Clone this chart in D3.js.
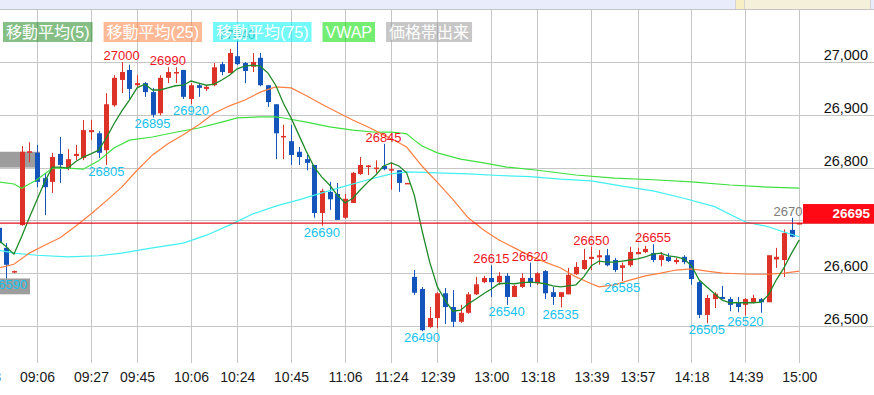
<!DOCTYPE html>
<html>
<head>
<meta charset="utf-8">
<script src="https://cdn.jsdelivr.net/npm/d3@7/dist/d3.min.js"></script>
<style>
  body { margin: 0; background: #fff; }
  svg { display: block; font-family: "Liberation Sans", Arial, "Noto Sans CJK JP", sans-serif; }
</style>
</head>
<body>
<svg id="chart" width="874" height="395"></svg>
<script>
// 3-minute candles, index 0 = 09:06, first five belong to the previous session close
var firstIndex = -5;
var opens = [26686,26648,26602,26691,26828,
  26828,26780,26773,26826,26799,26822,26818,26867,26865,26833,
  26918,26966,26985,26956,26960,26943,26903,26970,26979,26985,
  26930,26956,26949,26956,26996,26979,27011,26998,26991,27008,
  26956,26920,26858,26850,26830,26816,26805,26714,26754,26750,
  26705,26733,26788,26801,26797,26803,26795,26795,26769,26593,
  26570,26498,26515,26562,26536,26508,26525,26560,26583,26591,
  26583,26595,26555,26574,26591,26581,26604,26564,26555,26560,
  26598,26608,26627,26630,26634,26625,26610,26615,26636,26640,
  26638,26625,26631,26621,26631,26625,26583,26521,26551,26555,
  26551,26545,26540,26545,26551,26545,26626,26625,26682,26693];
var highs = [26692,26657,26605,26841,26848,
  26843,26790,26828,26858,26835,26843,26890,26890,26869,26941,
  26975,27000,26995,26975,26962,26951,26975,26990,26990,26985,
  26960,26960,26956,26998,27000,27025,27040,27000,27017,27017,
  26956,26920,26881,26881,26839,26824,26805,26760,26773,26771,
  26750,26792,26820,26805,26814,26845,26810,26795,26771,26606,
  26574,26536,26564,26572,26568,26540,26564,26593,26595,26615,
  26602,26600,26578,26600,26620,26602,26606,26574,26564,26610,
  26621,26646,26650,26644,26646,26629,26620,26650,26648,26652,
  26655,26640,26638,26629,26634,26625,26587,26559,26564,26576,
  26555,26555,26553,26559,26553,26634,26648,26683,26705,26695];
var lows = [26650,26590,26600,26690,26810,
  26763,26710,26752,26771,26795,26814,26814,26852,26818,26805,
  26915,26941,26928,26951,26934,26895,26899,26960,26960,26930,
  26920,26934,26945,26954,26975,26979,26994,26960,26981,26954,
  26915,26816,26816,26805,26805,26795,26705,26690,26720,26701,
  26703,26733,26786,26786,26790,26795,26758,26754,26769,26559,
  26490,26496,26496,26504,26498,26506,26523,26559,26581,26555,
  26578,26540,26555,26572,26574,26578,26551,26540,26535,26560,
  26597,26606,26606,26616,26613,26602,26585,26612,26636,26638,
  26621,26613,26621,26617,26617,26578,26515,26505,26534,26551,
  26528,26526,26520,26543,26525,26545,26610,26593,26668,26693];
var closes = [26657,26616,26604,26830,26831,
  26773,26763,26820,26805,26816,26826,26871,26871,26828,26920,
  26970,26981,26949,26960,26943,26900,26970,26981,26981,26934,
  26956,26951,26953,26990,26981,27017,26996,26983,27000,26956,
  26924,26865,26860,26824,26820,26809,26714,26756,26740,26701,
  26741,26790,26805,26804,26800,26797,26797,26771,26771,26563,
  26492,26515,26562,26536,26508,26525,26560,26579,26591,26583,
  26595,26555,26576,26591,26583,26600,26562,26555,26564,26597,
  26612,26625,26631,26634,26615,26606,26615,26640,26640,26646,
  26625,26634,26623,26625,26621,26589,26521,26553,26561,26551,
  26540,26536,26551,26553,26545,26634,26631,26676,26669,26695];

// 5-period moving average, one value per candle
var ma5 = [26663,26650,26636,26669,26705,
  26739,26773,26801,26801,26799,26811,26820,26826,26833,26856,
  26883,26907,26928,26951,26958,26947,26947,26951,26955,26956,
  26964,26960,26956,26958,26966,26975,26987,26992,26994,26992,
  26979,26956,26922,26894,26862,26830,26801,26782,26767,26748,
  26733,26742,26758,26773,26786,26803,26809,26803,26790,26748,
  26681,26621,26574,26549,26528,26530,26542,26551,26561,26570,
  26580,26581,26580,26582,26583,26582,26580,26576,26574,26576,
  26578,26593,26614,26623,26621,26621,26623,26625,26627,26631,
  26636,26638,26633,26631,26627,26614,26587,26574,26561,26549,
  26544,26544,26544,26544,26545,26559,26587,26610,26638,26663];

// longer averages and VWAP, read at sampled candles
var ma25Idx = [-5,-3,-1,1,3,5,7,9,11,13,15,17,19,21,23,25,27,29,31,33,35,37,39,41,43,45,47,48,50,52,54,56,58,60,62,64,66,68,70,72,73,75,77,79,81,83,85,87,89,91,93,95,97,99];
var ma25Val = [26610,26617,26638,26653,26667,26689,26712,26737,26763,26795,26824,26845,26862,26881,26903,26917,26928,26943,26953,26951,26936,26920,26905,26890,26877,26862,26847,26839,26803,26772,26740,26705,26682,26663,26648,26633,26621,26610,26593,26580,26574,26578,26587,26595,26600,26606,26608,26604,26600,26599,26598,26598,26600,26604];
var ma75Idx = [-5,-3,0,4,8,11,15,19,22,25,28,31,34,37,40,43,46,48,52,56,60,64,68,72,76,80,84,88,92,95,97,99];
var ma75Val = [26644,26638,26634,26631,26633,26638,26648,26657,26672,26691,26712,26727,26739,26752,26765,26777,26788,26792,26790,26788,26785,26783,26778,26775,26765,26756,26742,26726,26697,26688,26678,26669];
var vwapIdx = [-5,-3,-2,-1,0,2,4,6,8,10,12,15,18,21,24,26,29,31,32,35,38,41,44,46,47,48,49,50,52,55,58,61,65,70,75,80,85,90,95,99];
var vwapVal = [26773,26769,26761,26769,26777,26799,26799,26797,26813,26837,26852,26858,26867,26875,26886,26894,26896,26896,26894,26886,26877,26871,26867,26867,26866,26864,26852,26841,26828,26816,26809,26801,26795,26786,26780,26777,26773,26767,26763,26761];

// volume by price (band low, band high, volume in thousands)
var bandLows = [26800, 26560];
var bandHighs = [26830, 26590];
var bandVolumes = [40, 30];

var tickIdx = [-7,0,7,13,20,26,33,40,46,52,59,65,72,78,85,92,99];
var tickLabels = ["14:48","09:06","09:27","09:45","10:06","10:24","10:45","11:06","11:24","12:39","13:00","13:18","13:39","13:57","14:18","14:39","15:00"];
var priceTicks = [26500, 26600, 26700, 26800, 26900, 27000];
var lastPrice = 26695;

var highMarks = [11, 17, 26, 45, 59, 64, 72, 80, 98];
var grayMarks = [26, 98];
var lowMarks = [-4, 9, 15, 20, 37, 50, 61, 68, 76, 87, 92];

var legendNames = ["移動平均(5)", "移動平均(25)", "移動平均(75)", "VWAP", "価格帯出来"];
var legendColors = ["#228b22", "#ff7f3f", "#00f4f4", "#00e000", "#999999"];

var W = 874, H = 395;
var svg = d3.select("#chart");

var x = d3.scaleLinear().domain([0, 99]).range([37, 799.3]);
var y = d3.scaleLinear().domain([26500, 27000]).range([326, 62]);
var vx = d3.scaleLinear().domain([0, 50]).range([0, 50]);

var candles = opens.map(function(o, k) {
  return {i: firstIndex + k, o: o, h: highs[k], l: lows[k], c: closes[k]};
});
function candleAt(i) { return candles[i - firstIndex]; }

// header strip
svg.append("rect").attr("x", 0).attr("y", 0).attr("width", W).attr("height", 9).attr("fill", "#e9ecfb");
svg.append("rect").attr("x", 736).attr("y", 0).attr("width", 8).attr("height", 9).attr("fill", "#f8efc4");
svg.append("rect").attr("x", 745).attr("y", 0).attr("width", 125).attr("height", 9).attr("fill", "#f4f0da");
[735.5, 744.5, 870.5].forEach(function(px) {
  svg.append("line").attr("x1", px).attr("x2", px).attr("y1", 0).attr("y2", 9).attr("stroke", "#d4d4d4");
});
svg.append("line").attr("x1", 0).attr("x2", W).attr("y1", 9.5).attr("y2", 9.5).attr("stroke", "#c4c4c4");

// grid
svg.append("g").selectAll("line").data(priceTicks).enter().append("line")
  .attr("x1", 0).attr("x2", W)
  .attr("y1", function(d) { return Math.round(y(d)) + 0.5; })
  .attr("y2", function(d) { return Math.round(y(d)) + 0.5; })
  .attr("stroke", "#c6c6c6");
svg.append("g").selectAll("line").data(tickIdx).enter().append("line")
  .attr("x1", function(d) { return Math.round(x(d)) + 0.5; })
  .attr("x2", function(d) { return Math.round(x(d)) + 0.5; })
  .attr("y1", 10).attr("y2", 363)
  .attr("stroke", "#c6c6c6");

// volume by price
svg.append("g").selectAll("rect").data(bandVolumes).enter().append("rect")
  .attr("x", 0)
  .attr("y", function(d, k) { return y(bandHighs[k]); })
  .attr("width", function(d) { return vx(d); })
  .attr("height", function(d, k) { return y(bandLows[k]) - y(bandHighs[k]); })
  .attr("fill", "#8c8c8c").attr("fill-opacity", 0.85);

// candles
var cg = svg.append("g");
cg.selectAll("line").data(candles).enter().append("line")
  .attr("x1", function(d) { return Math.round(x(d.i)) + 0.5; })
  .attr("x2", function(d) { return Math.round(x(d.i)) + 0.5; })
  .attr("y1", function(d) { return y(d.h); })
  .attr("y2", function(d) { return y(d.l); })
  .attr("stroke", function(d) { return d.c >= d.o ? "#dc3228" : "#1455bb"; })
  .attr("stroke-width", 1);
cg.selectAll("rect").data(candles).enter().append("rect")
  .attr("x", function(d) { return Math.round(x(d.i)) - 2; })
  .attr("y", function(d) { return y(Math.max(d.o, d.c)); })
  .attr("width", 5)
  .attr("height", function(d) { return Math.max(1.5, Math.abs(y(d.o) - y(d.c))); })
  .attr("fill", function(d) { return d.c >= d.o ? "#dc3228" : "#1455bb"; });

// averages
function drawLine(idx, vals, color, width) {
  var line = d3.line()
    .x(function(d) { return x(d); })
    .y(function(d, k) { return y(vals[k]); });
  svg.append("path")
    .attr("d", line(idx))
    .attr("fill", "none")
    .attr("stroke", color)
    .attr("stroke-width", width);
}
drawLine(vwapIdx, vwapVal, "#3ee03e", 1.2);
drawLine(ma75Idx, ma75Val, "#3ff0f0", 1.2);
drawLine(ma25Idx, ma25Val, "#ff7e40", 1.2);
drawLine(candles.map(function(d) { return d.i; }), ma5, "#1f8a2a", 1.3);

// current price line
svg.append("line")
  .attr("x1", 0).attr("x2", W)
  .attr("y1", y(lastPrice)).attr("y2", y(lastPrice))
  .attr("stroke", "#e3101a").attr("stroke-width", 1.2);

// high / low marks
svg.append("g").selectAll("text").data(highMarks).enter().append("text")
  .attr("x", function(d) { return x(d); })
  .attr("y", function(d) { return y(candleAt(d).h) - 2; })
  .attr("text-anchor", "middle")
  .attr("font-size", 13)
  .attr("fill", function(d) { return grayMarks.indexOf(d) >= 0 ? "#7c7c7c" : "#f0141e"; })
  .text(function(d) { return candleAt(d).h; });
svg.append("g").selectAll("text").data(lowMarks).enter().append("text")
  .attr("x", function(d) { return d < 0 ? x(d) + 3 : x(d); })
  .attr("y", function(d) { return y(candleAt(d).l) + 11; })
  .attr("text-anchor", "middle")
  .attr("font-size", 13)
  .attr("fill", "#14c3f0")
  .text(function(d) { return candleAt(d).l; });

// price axis
var yAxis = d3.axisLeft(y).tickValues(priceTicks).tickSize(0).tickPadding(0).tickFormat(d3.format(","));
var ya = svg.append("g").attr("transform", "translate(868,0)").call(yAxis);
ya.select(".domain").remove();
ya.selectAll("text").attr("dy", -2.5).attr("font-size", 14.5).attr("fill", "#111")
  .attr("font-family", "Liberation Sans, Arial, sans-serif");

// last price box
svg.append("rect").attr("x", 803).attr("y", y(lastPrice) - 19).attr("width", W - 803).attr("height", 19)
  .attr("fill", "#ff0a14");
svg.append("text").attr("x", 870).attr("y", y(lastPrice) - 5)
  .attr("text-anchor", "end").attr("font-size", 13.5).attr("font-weight", "bold").attr("fill", "#fff")
  .text(lastPrice);

// time axis
var xAxis = d3.axisBottom(x).tickValues(tickIdx).tickSize(0).tickPadding(0)
  .tickFormat(function(d, k) { return tickLabels[k]; });
var xa = svg.append("g").attr("transform", "translate(0,368)").call(xAxis);
xa.select(".domain").remove();
xa.selectAll("text").attr("dy", 13.5).attr("font-size", 14).attr("fill", "#1a1a1a")
  .attr("font-family", "Liberation Sans, Arial, sans-serif");

// legend
var lx = 3;
legendNames.forEach(function(name, k) {
  var g = svg.append("g");
  var box = g.append("rect").attr("y", 22).attr("height", 20)
    .attr("fill", legendColors[k]).attr("fill-opacity", 0.55);
  var t = g.append("text").attr("y", 37.5).attr("font-size", 16).attr("fill", "#fff").text(name);
  var tw = t.node().getComputedTextLength();
  box.attr("x", lx).attr("width", tw + 6);
  t.attr("x", lx + 3);
  lx += tw + 6 + 11;
});
</script>
</body>
</html>
